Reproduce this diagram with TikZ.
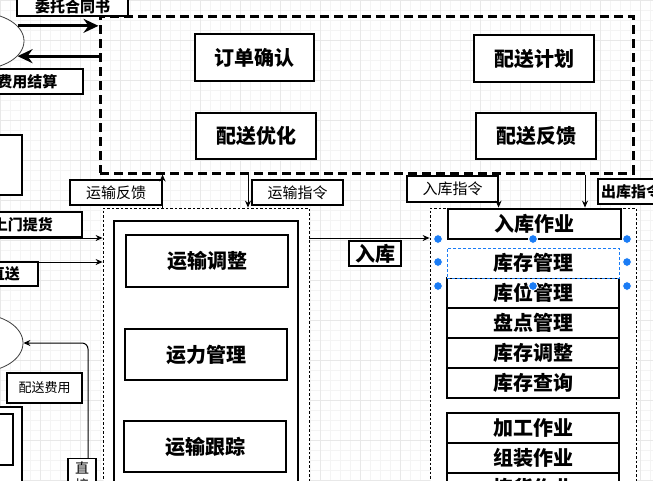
\documentclass[tikz,border=0pt]{standalone}
\usepackage{fontspec}
\setmainfont{Noto Sans CJK SC}
\usetikzlibrary{arrows.meta,shapes.geometric}
\definecolor{selblue}{HTML}{1A7CF5}
\definecolor{gridmin}{HTML}{F4F4F4}
\definecolor{gridmaj}{HTML}{E8E8E8}
\begin{document}
\begin{tikzpicture}[x=1pt,y=-1pt,
  box/.style={draw, line width=1.1pt, fill=white, inner sep=0pt, font=\fontsize{20}{24}\selectfont\bfseries},
  lbl/.style={draw, line width=1.1pt, fill=white, inner sep=0pt, font=\fontsize{15}{18}\selectfont},
  lblb/.style={lbl, font=\fontsize{15}{18}\selectfont\bfseries},
  dotbox/.style={draw, line width=0.8pt, dash pattern=on 2.5pt off 2pt, fill=white, inner sep=0pt},
  bigdash/.style={draw, line width=3pt, dash pattern=on 9pt off 5pt, inner sep=0pt},
  ell/.style={ellipse, draw=black!75, line width=0.8pt, fill=white, inner sep=0pt},
  arr/.style={line width=1pt, -{Stealth[length=7pt,width=6pt]}},
  thickarr/.style={line width=3pt, -{Stealth[length=15pt,width=14pt,inset=5pt]}},
  handle/.style={circle, fill=selblue, draw=white, line width=1pt, minimum size=9pt, inner sep=0pt}
]
\useasboundingbox (0,0) rectangle (653,480);
\clip (0,0) rectangle (653,480);
\fill[white] (0,0) rectangle (653,480);
% grid
\foreach \g in {0,10,...,650} \draw[gridmin, line width=0.6pt] (\g,0) -- (\g,480);
\foreach \g in {0,10,...,480} \draw[gridmin, line width=0.6pt] (0,\g) -- (653,\g);
\foreach \g in {0,40,...,650} \draw[gridmaj, line width=0.6pt] (\g,0) -- (\g,480);
\foreach \g in {0,40,...,480} \draw[gridmaj, line width=0.6pt] (0,\g) -- (653,\g);

% platform dashed box
\node[bigdash, minimum width=533pt, minimum height=157pt] (plat) at (366.5,94.5) {};
\node[box, minimum width=119pt, minimum height=47pt] (ddqr) at (254.5,57.5) {订单确认};
\node[box, minimum width=120pt, minimum height=46pt] (psyh) at (256,136) {配送优化};
\node[box, minimum width=120pt, minimum height=47pt] (psjh) at (534,58.5) {配送计划};
\node[box, minimum width=120pt, minimum height=46pt] (psfk) at (536,136) {配送反馈};

% left ellipses and boxes
\node[ell, minimum width=88pt, minimum height=56pt] (ell1) at (-20,41) {};
\node[ell, minimum width=90pt, minimum height=58pt] (ell2) at (-22,343) {};
\node[box, minimum width=32pt, minimum height=60pt] (lmbox) at (6,165) {};
\node[box, minimum width=32pt, minimum height=93pt] (lbout) at (6,453.5) {};
\node[box, minimum width=33pt, minimum height=51pt] (lbin) at (-3.5,439.5) {};

% transport
\node[dotbox, minimum width=206pt, minimum height=292pt] (tdot) at (206,354) {};
\node[box, minimum width=184pt, minimum height=274pt] (tin) at (206,358) {};
\node[box, minimum width=162pt, minimum height=52pt] (ystz) at (207,261) {运输调整};
\node[box, minimum width=162pt, minimum height=51pt] (ylgl) at (206,354.5) {运力管理};
\node[box, minimum width=162pt, minimum height=51pt] (ysgz) at (205,446.5) {运输跟踪};

% warehouse
\node[dotbox, minimum width=206pt, minimum height=292pt] (wdot) at (533,354) {};
\node[box, minimum width=173pt, minimum height=30pt] (rkzy) at (534.5,224) {入库作业};
\node[box, minimum width=172pt, minimum height=30pt] (kwgl) at (533,293) {库位管理};
\node[box, minimum width=172pt, minimum height=30pt] (pdgl) at (533,323) {盘点管理};
\node[box, minimum width=172pt, minimum height=30pt] (kctz) at (533,353) {库存调整};
\node[box, minimum width=172pt, minimum height=30pt] (kccx) at (533,383) {库存查询};
\node[box, minimum width=172pt, minimum height=30pt] (jgzy) at (533,428) {加工作业};
\node[box, minimum width=172pt, minimum height=30pt] (zzzy) at (533,458) {组装作业};
\node[box, minimum width=172pt, minimum height=30pt] (jhzy) at (533,488) {拣货作业};
\node[box, draw=selblue, dash pattern=on 3pt off 2pt, line width=1pt, minimum width=172pt, minimum height=30pt] (kcgl) at (533,263) {库存管理};

% thick arrows to/from platform
\draw[thickarr] (ell1.22) -- (plat.west |- ell1.22);
\draw[thickarr] (plat.west |- ell1.-22) -- (ell1.-22);

% labels
\node[lblb, minimum width=111pt, minimum height=18pt] (wtht) at (72.5,7) {委托合同书};
\node[lblb, minimum width=111pt, minimum height=25pt] (fyjs) at (27.5,81.5) {费用结算};
\node[lbl, minimum width=92pt, minimum height=25pt] (ysfk) at (116,192.5) {运输反馈};
\node[lbl, minimum width=91pt, minimum height=25pt] (yszl) at (297.5,192.5) {运输指令};
\node[lbl, minimum width=91pt, minimum height=26pt] (rkzl) at (452.5,189) {入库指令};
\node[lblb, minimum width=66pt, minimum height=25pt] (ckzl) at (631,191.5) {出库指令};
\node[lblb, minimum width=118pt, minimum height=25pt] (smth) at (23,224.5) {上门提货};
\node[lblb, minimum width=66pt, minimum height=24pt] (zs) at (5,274) {直送};
\node[lbl, font=\fontsize{13}{16}\selectfont, minimum width=75pt, minimum height=30pt] (psfy) at (44.5,388) {配送费用};
\node[lbl, font=\bfseries\fontsize{20}{24}\selectfont, minimum width=52pt, minimum height=25pt] (rk) at (375,253.5) {入库};
\node[lbl, anchor=north, font=\fontsize{14}{17}\selectfont, minimum width=28pt, inner ysep=3pt, align=center] (zj) at (82,458) {直\\接\\送};

% thin arrows
\draw[arr] (ysfk.east |- tdot.north) -- (ysfk.east |- plat.south);
\coordinate (yszlx) at (248,0);
\draw[arr] (yszlx |- plat.south) -- (yszlx |- tdot.north);
\draw[arr] (rkzl.east |- plat.south) -- (rkzl.east |- wdot.north);
\coordinate (ckzlx) at (585,0);
\draw[arr] (ckzlx |- plat.south) -- (ckzlx |- wdot.north);
\coordinate (rky) at (0,238);
\draw[arr] (tdot.east |- rky) -- (wdot.west |- rky);
\coordinate (smst) at (-40,238);
\draw[arr] (smst) -- (tdot.west |- smst);
\coordinate (zsst) at (-40,262);
\draw[arr] (zsst) -- (tdot.west |- zsst);
\coordinate (zjx) at (88,0);
\draw[arr, rounded corners=6pt] (zjx |- zj.north) |- (ell2.east);

% selection handles
\foreach \hx/\hy [count=\i] in {438/239,533/239,627/239,438/262,627/262,438/286,533/286,627/286}
  \node[handle] (h\i) at (\hx,\hy) {};
\end{tikzpicture}
\end{document}
